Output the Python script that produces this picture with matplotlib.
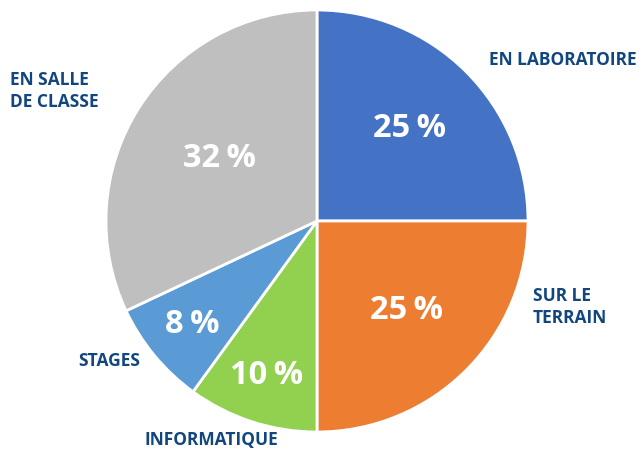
import numpy as np
import matplotlib.pyplot as plt

# Data (clockwise from top)
categories = ['EN LABORATOIRE', 'SUR LE\nTERRAIN', 'INFORMATIQUE', 'STAGES', 'EN SALLE\nDE CLASSE']
values = [25, 25, 10, 8, 32]
colors = ['#4472C4', '#ED7D31', '#92D050', '#5B9BD5', '#BFBFBF']

W, H = 644, 449
fig = plt.figure(figsize=(W / 100, H / 100), dpi=100)
ax = fig.add_axes([0, 0, 1, 1])

cx, cy, r = 317, H - 221, 211
wedges, _ = ax.pie(values, colors=colors, startangle=90, counterclock=False,
                   center=(cx, cy), radius=r,
                   wedgeprops=dict(edgecolor='white', linewidth=2))
ax.set_xlim(0, W)
ax.set_ylim(0, H)
ax.set_aspect('equal')
ax.axis('off')

# percentage labels inside wedges
pct_dist = [0.62, 0.60, 0.77, 0.77, 0.55]
font = ['Open Sans', 'DejaVu Sans']
for w, v, d in zip(wedges, values, pct_dist):
    ang = np.deg2rad((w.theta1 + w.theta2) / 2)
    x = cx + d * r * np.cos(ang)
    y = cy + d * r * np.sin(ang)
    ax.text(x, y, '{}\u2009%'.format(v), color='white', fontsize=23.5,
            fontweight='bold', family=font, ha='center', va='center')

# outer category labels
navy = '#12467f'
lab_pos = [(489, 60, 'left'), (533, 307, 'left'), (211, 440, 'center'),
           (140, 361, 'right'), (10, 91, 'left')]
for name, (x, y, ha) in zip(categories, lab_pos):
    ax.text(x, H - y, name, color=navy, fontsize=12.5, fontweight='bold',
            family=font, ha=ha, va='center', linespacing=1.25)

fig.savefig('out.png', dpi=100)
